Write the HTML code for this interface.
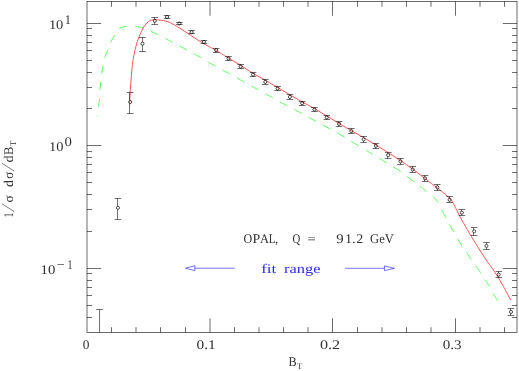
<!DOCTYPE html>
<html><head><meta charset="utf-8"><title>plot</title>
<style>html,body{margin:0;padding:0;background:#fff;}body{width:519px;height:371px;overflow:hidden;position:relative;font-family:"Liberation Serif",serif;}</style></head>
<body>
<svg width="519" height="371" viewBox="0 0 519 371" style="position:absolute;left:0;top:0;will-change:transform" text-rendering="geometricPrecision">
<rect x="0" y="0" width="519" height="371" fill="#fff"/>
<g stroke="#000" stroke-width="0.58" fill="none" stroke-linecap="butt">
<rect x="87.00" y="1.50" width="430.00" height="331.00"/>
<path d="M111.50 332.50V327.20M111.50 1.50V6.80M136.00 332.50V327.20M136.00 1.50V6.80M160.50 332.50V327.20M160.50 1.50V6.80M185.50 332.50V327.20M185.50 1.50V6.80M210.00 332.50V318.30M210.00 1.50V15.70M234.50 332.50V327.20M234.50 1.50V6.80M259.00 332.50V327.20M259.00 1.50V6.80M283.50 332.50V327.20M283.50 1.50V6.80M308.00 332.50V327.20M308.00 1.50V6.80M332.50 332.50V318.30M332.50 1.50V15.70M357.50 332.50V327.20M357.50 1.50V6.80M382.00 332.50V327.20M382.00 1.50V6.80M406.50 332.50V327.20M406.50 1.50V6.80M431.00 332.50V327.20M431.00 1.50V6.80M455.50 332.50V318.30M455.50 1.50V15.70M480.00 332.50V327.20M480.00 1.50V6.80M504.50 332.50V327.20M504.50 1.50V6.80M87.00 317.50H92.00M517.00 317.50H512.00M87.00 305.50H92.00M517.00 305.50H512.00M87.00 295.50H92.00M517.00 295.50H512.00M87.00 287.50H92.00M517.00 287.50H512.00M87.00 280.50H92.00M517.00 280.50H512.00M87.00 273.50H92.00M517.00 273.50H512.00M87.00 268.50H101.20M517.00 268.50H502.80M87.00 231.50H92.00M517.00 231.50H512.00M87.00 209.50H92.00M517.00 209.50H512.00M87.00 194.50H92.00M517.00 194.50H512.00M87.00 182.50H92.00M517.00 182.50H512.00M87.00 172.50H92.00M517.00 172.50H512.00M87.00 164.50H92.00M517.00 164.50H512.00M87.00 157.50H92.00M517.00 157.50H512.00M87.00 151.50H92.00M517.00 151.50H512.00M87.00 145.50H101.20M517.00 145.50H502.80M87.00 108.50H92.00M517.00 108.50H512.00M87.00 87.50H92.00M517.00 87.50H512.00M87.00 72.50H92.00M517.00 72.50H512.00M87.00 60.50H92.00M517.00 60.50H512.00M87.00 50.50H92.00M517.00 50.50H512.00M87.00 42.50H92.00M517.00 42.50H512.00M87.00 35.50H92.00M517.00 35.50H512.00M87.00 28.50H92.00M517.00 28.50H512.00M87.00 23.50H101.20M517.00 23.50H502.80"/>
</g>
<path d="M97.8 115.7L97.8 115.1M98.4 106.6L99.6 98.6M100.1 90.1L100.7 82.0M101.6 73.5L103.2 65.5M104.7 57.6Q105.9 53.8 107.7 50.3M110.5 42.6Q112.3 38.5 114.8 35.2M119.2 28.6Q122.3 26.6 127.0 26.2M135.1 26.4Q139.5 26.9 143.4 28.3M151.0 31.3L158.2 34.7M165.3 38.3L172.5 42.4M179.4 45.9L186.9 50.0M193.8 53.7L201.2 57.9M208.3 62.2L215.6 66.3M222.5 70.0L229.8 74.1M236.9 77.9L244.1 82.0M251.3 86.0L258.5 89.8M265.7 94.0L272.8 97.8M279.8 101.9L287.3 105.9M294.2 109.4L302.0 113.6M308.5 117.3L316.0 121.3M322.9 125.1L330.7 129.2M337.2 132.9L344.8 137.3M351.2 141.4L359.0 146.0M365.7 150.1L372.7 154.4M379.2 158.3L386.9 162.9M393.1 166.7L400.9 171.6M407.0 176.4L413.8 181.7M420.0 186.1L426.8 191.5M432.9 196.3L438.4 202.8M441.9 210.2L446.0 217.7M449.2 224.4L453.7 231.7M457.4 238.8L462.1 246.2M466.5 252.6L471.3 259.6M475.8 266.1L480.8 272.9M485.0 279.6L489.7 286.5M493.0 293.4L497.6 300.7" stroke="#00ff00" stroke-width="0.6" fill="none"/>
<path d="M129.70 104.50C129.78 102.42 129.95 96.40 130.20 92.00C130.45 87.60 130.87 82.33 131.20 78.10C131.53 73.87 131.87 69.73 132.20 66.60C132.53 63.47 132.80 61.80 133.20 59.30C133.60 56.80 134.03 54.17 134.60 51.60C135.17 49.03 135.82 46.47 136.60 43.90C137.38 41.33 138.27 38.77 139.30 36.20C140.33 33.63 141.57 30.68 142.80 28.50C144.03 26.32 145.42 24.43 146.70 23.10C147.98 21.77 149.10 21.07 150.50 20.50C151.90 19.93 153.43 19.75 155.10 19.70C156.77 19.65 158.53 19.92 160.50 20.20C162.47 20.48 164.90 20.78 166.90 21.40C168.90 22.02 170.45 22.83 172.50 23.90C174.55 24.97 177.12 26.52 179.20 27.80C181.28 29.08 182.93 30.25 185.00 31.60C187.07 32.95 189.50 34.52 191.60 35.90C193.70 37.28 195.57 38.60 197.60 39.90C199.63 41.20 201.72 42.48 203.80 43.70C205.88 44.92 208.05 46.07 210.10 47.20C212.15 48.33 211.00 47.45 216.10 50.50C221.20 53.55 234.53 61.70 240.70 65.50C246.87 69.30 249.00 70.83 253.10 73.30C257.20 75.77 261.22 77.93 265.30 80.30C269.38 82.67 273.50 85.08 277.60 87.50C281.70 89.92 285.82 92.40 289.90 94.80C293.98 97.20 298.02 99.62 302.10 101.90C306.18 104.18 310.30 106.15 314.40 108.50C318.50 110.85 322.63 113.55 326.70 116.00C330.77 118.45 334.70 120.75 338.80 123.20C342.90 125.65 347.18 128.32 351.30 130.70C355.42 133.08 359.42 135.12 363.50 137.50C367.58 139.88 371.70 142.50 375.80 145.00C379.90 147.50 384.02 149.92 388.10 152.50C392.18 155.08 396.22 157.75 400.30 160.50C404.38 163.25 408.50 166.00 412.60 169.00C416.70 172.00 420.80 175.35 424.90 178.50C429.00 181.65 434.00 185.43 437.20 187.90C440.40 190.37 442.05 191.55 444.10 193.30C446.15 195.05 448.30 197.23 449.50 198.40C450.70 199.57 450.57 199.33 451.30 200.30C452.03 201.27 453.12 202.78 453.90 204.20C454.68 205.62 454.88 206.53 456.00 208.80C457.12 211.07 458.93 214.72 460.60 217.80C462.27 220.88 464.33 224.40 466.00 227.30C467.67 230.20 468.50 231.70 470.60 235.20C472.70 238.70 475.83 243.93 478.60 248.30C481.37 252.67 484.65 257.65 487.20 261.40C489.75 265.15 492.02 268.03 493.90 270.80C495.78 273.57 496.73 275.05 498.50 278.00C500.27 280.95 502.47 284.83 504.50 288.50C506.53 292.17 509.67 298.08 510.70 300.00" stroke="#ff0000" stroke-width="0.65" fill="none"/>
<path d="M117.50 198.50V206.10M117.50 209.50V219.50M114.61 198.50H121.21M114.61 219.50H121.21M129.50 92.50V100.30M129.50 103.70V113.50M126.90 92.50H133.50M126.90 113.50H133.50M142.50 37.50V42.00M142.50 45.40V51.50M139.18 37.50H145.78M139.18 51.50H145.78M154.50 17.50V19.10M154.50 22.50V24.50M151.47 17.50H158.07M151.47 24.50H158.07M163.75 15.50H170.35M163.75 18.50H170.35M176.04 22.50H182.64M176.04 24.50H182.64M191.50 30.50V30.50M188.32 30.50H194.92M188.32 33.50H194.92M200.61 40.50H207.21M200.61 43.50H207.21M215.50 51.90V52.50M212.89 48.50H219.49M212.89 52.50H219.49M228.50 56.50V56.80M228.50 60.20V60.50M225.18 56.50H231.78M225.18 60.50H231.78M240.50 64.50V64.90M240.50 68.30V68.50M237.46 64.50H244.06M237.46 68.50H244.06M252.50 72.50V72.90M252.50 76.30V76.50M249.75 72.50H256.35M249.75 76.50H256.35M265.50 79.50V80.20M265.50 83.60V84.50M262.03 79.50H268.63M262.03 84.50H268.63M277.50 86.50V86.80M277.50 90.20V90.50M274.32 86.50H280.92M274.32 90.50H280.92M289.50 94.50V95.20M289.50 98.60V99.50M286.60 94.50H293.20M286.60 99.50H293.20M301.50 104.90V105.50M298.89 101.50H305.49M298.89 105.50H305.49M314.50 107.50V107.80M314.50 111.20V111.50M311.17 107.50H317.77M311.17 111.50H317.77M326.50 115.50V115.70M326.50 119.10V119.50M323.46 115.50H330.06M323.46 119.50H330.06M338.50 121.50V122.20M338.50 125.60V126.50M335.74 121.50H342.34M335.74 126.50H342.34M351.50 128.50V129.40M351.50 132.80V133.50M348.03 128.50H354.63M348.03 133.50H354.63M363.50 136.50V137.70M363.50 141.10V142.50M360.31 136.50H366.91M360.31 142.50H366.91M375.50 143.50V144.10M375.50 147.50V148.50M372.60 143.50H379.20M372.60 148.50H379.20M387.50 152.50V153.50M387.50 156.90V158.50M384.88 152.50H391.48M384.88 158.50H391.48M400.50 158.50V159.60M400.50 163.00V164.50M397.17 158.50H403.77M397.17 164.50H403.77M412.50 166.50V167.80M412.50 171.20V172.50M409.45 166.50H416.05M409.45 172.50H416.05M424.50 175.50V176.60M424.50 180.00V181.50M421.74 175.50H428.34M421.74 181.50H428.34M437.50 184.50V185.70M437.50 189.10V190.50M434.02 184.50H440.62M434.02 190.50H440.62M449.50 196.50V198.10M449.50 201.50V202.50M446.31 196.50H452.91M446.31 202.50H452.91M461.50 209.50V211.00M461.50 214.40V215.50M458.59 209.50H465.19M458.59 215.50H465.19M473.50 227.50V229.60M473.50 233.00V235.50M470.88 227.50H477.48M470.88 235.50H477.48M486.50 242.50V244.20M486.50 247.60V249.50M483.16 242.50H489.76M483.16 249.50H489.76M498.50 271.50V272.90M498.50 276.30V277.50M495.45 271.50H502.05M495.45 277.50H502.05M510.50 308.50V310.20M510.50 313.60V315.50M507.73 308.50H514.33M507.73 315.50H514.33M99.50 309.50V332.50M96.19 309.50H102.78" stroke="#000" stroke-width="0.56" fill="none"/>
<g stroke="#000" stroke-width="0.7" fill="none"><circle cx="117.91" cy="207.80" r="1.55"/><circle cx="130.20" cy="102.00" r="1.55"/><circle cx="142.48" cy="43.70" r="1.55"/><circle cx="154.77" cy="20.80" r="1.55"/><circle cx="167.05" cy="17.00" r="1.55"/><circle cx="179.34" cy="23.50" r="1.55"/><circle cx="191.62" cy="32.20" r="1.55"/><circle cx="203.91" cy="41.90" r="1.55"/><circle cx="216.19" cy="50.20" r="1.55"/><circle cx="228.48" cy="58.50" r="1.55"/><circle cx="240.76" cy="66.60" r="1.55"/><circle cx="253.05" cy="74.60" r="1.55"/><circle cx="265.33" cy="81.90" r="1.55"/><circle cx="277.62" cy="88.50" r="1.55"/><circle cx="289.90" cy="96.90" r="1.55"/><circle cx="302.19" cy="103.20" r="1.55"/><circle cx="314.47" cy="109.50" r="1.55"/><circle cx="326.76" cy="117.40" r="1.55"/><circle cx="339.04" cy="123.90" r="1.55"/><circle cx="351.33" cy="131.10" r="1.55"/><circle cx="363.61" cy="139.40" r="1.55"/><circle cx="375.90" cy="145.80" r="1.55"/><circle cx="388.18" cy="155.20" r="1.55"/><circle cx="400.47" cy="161.30" r="1.55"/><circle cx="412.75" cy="169.50" r="1.55"/><circle cx="425.04" cy="178.30" r="1.55"/><circle cx="437.32" cy="187.40" r="1.55"/><circle cx="449.61" cy="199.80" r="1.55"/><circle cx="461.89" cy="212.70" r="1.55"/><circle cx="474.18" cy="231.30" r="1.55"/><circle cx="486.46" cy="245.90" r="1.55"/><circle cx="498.75" cy="274.60" r="1.55"/><circle cx="511.03" cy="311.90" r="1.55"/></g>
<g stroke="#0000ff" stroke-width="0.55" fill="none">
<path d="M194.9 268.2H234.8M185.5 268.2L194.9 265.7V270.7L185.5 268.2Z"/>
<path d="M345.1 268.3H384.4M394.4 268.3L384.4 265.9V270.7L394.4 268.3Z"/>
</g>
<g font-family="'Liberation Serif', serif" font-size="13.3">
<text x="82.8" y="349.2" font-size="13.3" fill="#333" textLength="6.7" lengthAdjust="spacingAndGlyphs">0</text>
<text x="196.6" y="349.2" font-size="13.3" fill="#333" textLength="19.2" lengthAdjust="spacingAndGlyphs">0.1</text>
<text x="319.9" y="349.2" font-size="13.3" fill="#333" textLength="20.2" lengthAdjust="spacingAndGlyphs">0.2</text>
<text x="442.7" y="349.2" font-size="13.3" fill="#333" textLength="18.8" lengthAdjust="spacingAndGlyphs">0.3</text>
<text x="288.4" y="365.6" font-size="13.3" fill="#333" textLength="8.2" lengthAdjust="spacingAndGlyphs">B</text>
<text x="296.9" y="368.6" font-size="8.6" fill="#333" textLength="5.3" lengthAdjust="spacingAndGlyphs">T</text>
<text x="48.9" y="28.6" font-size="13.3" fill="#333" textLength="14.4" lengthAdjust="spacingAndGlyphs">10</text>
<text x="64.8" y="24.0" font-size="13.3" fill="#333" textLength="6.2" lengthAdjust="spacingAndGlyphs">1</text>
<text x="48.9" y="151.1" font-size="13.3" fill="#333" textLength="14.5" lengthAdjust="spacingAndGlyphs">10</text>
<text x="64.5" y="146.3" font-size="13.3" fill="#333" textLength="7.4" lengthAdjust="spacingAndGlyphs">0</text>
<text x="40.5" y="273.8" font-size="13.3" fill="#333" textLength="14.8" lengthAdjust="spacingAndGlyphs">10</text>
<text x="56.8" y="269.2" font-size="13.3" fill="#333" textLength="8.0" lengthAdjust="spacingAndGlyphs">−</text>
<text x="67.6" y="269.2" font-size="13.3" fill="#333" textLength="5.0" lengthAdjust="spacingAndGlyphs">1</text>
<text x="243.4" y="243.0" font-size="13.3" fill="#333" textLength="8.7" lengthAdjust="spacingAndGlyphs">O</text>
<text x="252.6" y="243.0" font-size="13.3" fill="#333" textLength="7.8" lengthAdjust="spacingAndGlyphs">P</text>
<text x="259.9" y="243.0" font-size="13.3" fill="#333" textLength="9.0" lengthAdjust="spacingAndGlyphs">A</text>
<text x="268.8" y="243.0" font-size="13.3" fill="#333" textLength="6.8" lengthAdjust="spacingAndGlyphs">L</text>
<text x="275.0" y="243.0" font-size="13.3" fill="#333" textLength="3.2" lengthAdjust="spacingAndGlyphs">,</text>
<text x="292.4" y="243.0" font-size="13.3" fill="#333" textLength="7.8" lengthAdjust="spacingAndGlyphs">Q</text>
<text x="307.6" y="243.0" font-size="13.3" fill="#333" textLength="8.2" lengthAdjust="spacingAndGlyphs">=</text>
<text x="336.3" y="243.0" font-size="13.3" fill="#333" textLength="7.4" lengthAdjust="spacingAndGlyphs">9</text>
<text x="345.0" y="243.0" font-size="13.3" fill="#333" textLength="7.0" lengthAdjust="spacingAndGlyphs">1</text>
<text x="352.3" y="243.0" font-size="13.3" fill="#333" textLength="3.3" lengthAdjust="spacingAndGlyphs">.</text>
<text x="356.2" y="243.0" font-size="13.3" fill="#333" textLength="7.0" lengthAdjust="spacingAndGlyphs">2</text>
<text x="370.1" y="243.0" font-size="13.3" fill="#333" textLength="23.8" lengthAdjust="spacingAndGlyphs">GeV</text>
<text x="261.2" y="272.8" font-size="13.3" fill="#2c2cff" textLength="15.2" lengthAdjust="spacingAndGlyphs">fit</text>
<text x="284.0" y="272.8" font-size="13.3" fill="#2c2cff" textLength="36.5" lengthAdjust="spacingAndGlyphs">range</text>
<g transform="translate(12.8,217.4) rotate(-90)">
<text x="0.2" y="0.0" font-size="13.3" fill="#333" textLength="4.6" lengthAdjust="spacingAndGlyphs">1</text>
<path d="M5.9 1.3L13.6 -10.8M46.4 1.3L54.1 -10.8" stroke="#222" stroke-width="0.6" fill="none"/>
<text x="14.8" y="0.0" font-size="13.3" fill="#333" textLength="7.2" lengthAdjust="spacingAndGlyphs">σ</text>
<text x="30.5" y="0.0" font-size="13.3" fill="#333" textLength="6.9" lengthAdjust="spacingAndGlyphs">d</text>
<text x="38.7" y="0.0" font-size="13.3" fill="#333" textLength="6.9" lengthAdjust="spacingAndGlyphs">σ</text>
<text x="54.8" y="0.0" font-size="13.3" fill="#333" textLength="7.0" lengthAdjust="spacingAndGlyphs">d</text>
<text x="62.3" y="0.0" font-size="13.3" fill="#333" textLength="8.4" lengthAdjust="spacingAndGlyphs">B</text>
<text x="71.4" y="2.8" font-size="8.6" fill="#333" textLength="5.4" lengthAdjust="spacingAndGlyphs">T</text>
</g>
</g>
</svg>
</body></html>
